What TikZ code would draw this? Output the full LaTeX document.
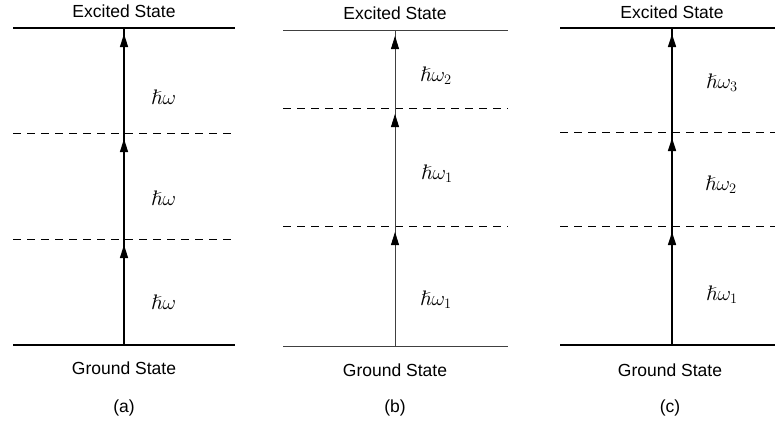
\documentclass[tikz,border=0pt]{standalone}
\usepackage{amssymb}
\usepackage{fontspec}
\setmainfont{Liberation Sans}
\usepackage{tikz}
\usetikzlibrary{arrows, arrows.meta}

\tikzset{
  lvl/.style={line width=1.6pt},
  lvlthin/.style={line width=0.8pt, black!75},
  virt/.style={line width=0.8pt, dash pattern=on 8pt off 6pt},
  photon/.style={-{Triangle[length=13pt,width=8pt,color=black]}, shorten >=6pt},
  lbl/.style={font=\fontsize{17.5}{20}\selectfont, inner sep=0pt},
  en/.style={font=\fontsize{21}{25}\selectfont, inner sep=0pt, anchor=west},
}

\begin{document}
\begin{tikzpicture}[x=1pt,y=-1pt]
    \useasboundingbox (0,0) rectangle (775,426);

    % (a) three equal photons
    \coordinate (a0) at (124,345);
    \coordinate (a1) at (124,239);
    \coordinate (a2) at (124,133);
    \coordinate (a3) at (124,28);
    \draw[lvl] ([xshift=-111pt]a3) -- ([xshift=111pt]a3);
    \draw[virt] ([xshift=-111pt]a2) -- ([xshift=111pt]a2);
    \draw[virt] ([xshift=-111pt]a1) -- ([xshift=111pt]a1);
    \draw[lvl] ([xshift=-111pt]a0) -- ([xshift=111pt]a0);
    \draw[lvl] (a0) -- (a3);
    \draw[lvl, photon] (a0) -- (a1);
    \draw[lvl, photon] (a1) -- (a2);
    \draw[lvl, photon] (a2) -- (a3);
    \node[lbl] (exA) at (124,11) {Excited State};
    \node[lbl] (grA) at (124,368) {Ground State};
    \node[lbl] (capA) at (124,408) {(a)};
    \node[en] (eA3) at (151,97) {$\hslash\omega$};
    \node[en] (eA2) at (151,198) {$\hslash\omega$};
    \node[en] (eA1) at (151,302) {$\hslash\omega$};

    % (b) two photons of one kind
    \coordinate (b0) at (395,346);
    \coordinate (b1) at (395,226);
    \coordinate (b2) at (395,108);
    \coordinate (b3) at (395,30);
    \draw[lvlthin] ([xshift=-112pt]b3) -- ([xshift=113pt]b3);
    \draw[virt] ([xshift=-112pt]b2) -- ([xshift=113pt]b2);
    \draw[virt] ([xshift=-112pt]b1) -- ([xshift=113pt]b1);
    \draw[lvlthin] ([xshift=-112pt]b0) -- ([xshift=113pt]b0);
    \draw[lvlthin] (b0) -- (b3);
    \draw[lvlthin, photon] (b0) -- (b1);
    \draw[lvlthin, photon] (b1) -- (b2);
    \draw[lvlthin, photon] (b2) -- (b3);
    \node[lbl] (exB) at (395,13) {Excited State};
    \node[lbl] (grB) at (395,370) {Ground State};
    \node[lbl] (capB) at (395,408) {(b)};
    \node[en] (eB3) at (420,76) {$\hslash\omega_2$};
    \node[en] (eB2) at (421,174) {$\hslash\omega_1$};
    \node[en] (eB1) at (420,300) {$\hslash\omega_1$};

    % (c) three different photons
    \coordinate (c0) at (672,345);
    \coordinate (c1) at (672,226);
    \coordinate (c2) at (672,132);
    \coordinate (c3) at (672,28);
    \draw[lvl] ([xshift=-112pt]c3) -- ([xshift=103pt]c3);
    \draw[virt] ([xshift=-112pt]c2) -- ([xshift=103pt]c2);
    \draw[virt] ([xshift=-112pt]c1) -- ([xshift=103pt]c1);
    \draw[lvl] ([xshift=-112pt]c0) -- ([xshift=103pt]c0);
    \draw[lvl] (c0) -- (c3);
    \draw[lvl, photon] (c0) -- (c1);
    \draw[lvl, photon] (c1) -- (c2);
    \draw[lvl, photon] (c2) -- (c3);
    \node[lbl] (exC) at (672,12) {Excited State};
    \node[lbl] (grC) at (670,370) {Ground State};
    \node[lbl] (capC) at (670,408) {(c)};
    \node[en] (eC3) at (706,83) {$\hslash\omega_3$};
    \node[en] (eC2) at (705,185) {$\hslash\omega_2$};
    \node[en] (eC1) at (706,295) {$\hslash\omega_1$};
\end{tikzpicture}
\end{document}
